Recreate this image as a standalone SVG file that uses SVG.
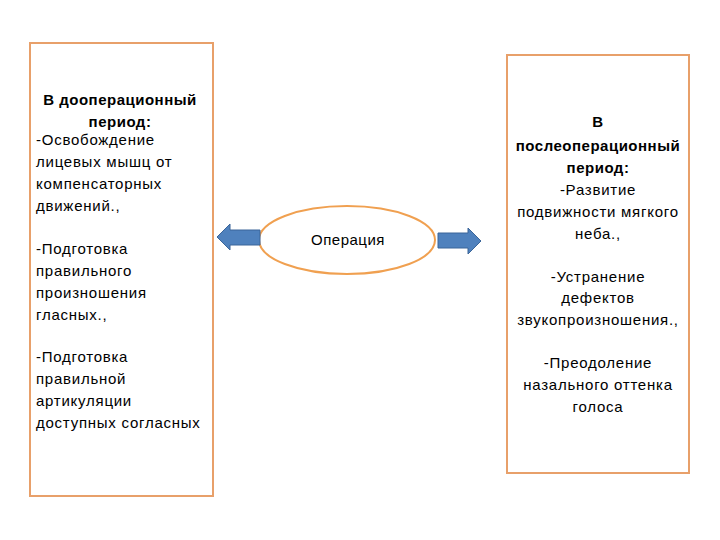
<svg xmlns="http://www.w3.org/2000/svg" width="720" height="540" viewBox="0 0 720 540">
<style>
.box{fill:#ffffff;stroke:#E8A06A;stroke-width:2}
.t{font-family:"Liberation Sans","DejaVu Sans",sans-serif;font-size:15px;fill:#000;letter-spacing:0.75px}
.b{font-weight:bold;letter-spacing:0.5px}
.c{text-anchor:middle}
.arr{fill:#4F81BD;stroke:#3A6599;stroke-width:1}
</style>
<rect width="720" height="540" fill="#ffffff"/>
<g id="pre">
<rect class="box" x="30" y="43" width="183" height="453"/>
<text class="t b c" x="120" y="105">В дооперационный</text>
<text class="t b c" x="120" y="127">период:</text>
<text class="t" x="36" y="145">-Освобождение</text>
<text class="t" x="36" y="167">лицевых мышц от</text>
<text class="t" x="36" y="189">компенсаторных</text>
<text class="t" x="36" y="211">движений.,</text>
<text class="t" x="36" y="254">-Подготовка</text>
<text class="t" x="36" y="276">правильного</text>
<text class="t" x="36" y="298">произношения</text>
<text class="t" x="36" y="320">гласных.,</text>
<text class="t" x="36" y="362">-Подготовка</text>
<text class="t" x="36" y="384">правильной</text>
<text class="t" x="36" y="406">артикуляции</text>
<text class="t" x="36" y="428">доступных согласных</text>
</g>
<g id="op">
<ellipse cx="347" cy="240" rx="88" ry="34" fill="#ffffff" stroke="#F0A050" stroke-width="2"/>
<text class="t c" x="348" y="245" style="letter-spacing:0.5px">Операция</text>
</g>
<g id="post">
<rect class="box" x="507" y="55" width="182" height="418"/>
<text class="t b c" x="598" y="127">В</text>
<text class="t b c" x="598" y="151">послеоперационный</text>
<text class="t b c" x="598" y="173">период:</text>
<text class="t c" x="598" y="195">-Развитие</text>
<text class="t c" x="598" y="217">подвижности мягкого</text>
<text class="t c" x="598" y="239">неба.,</text>
<text class="t c" x="598" y="282">-Устранение</text>
<text class="t c" x="598" y="303">дефектов</text>
<text class="t c" x="598" y="325">звукопроизношения.,</text>
<text class="t c" x="598" y="368">-Преодоление</text>
<text class="t c" x="598" y="390">назального  оттенка</text>
<text class="t c" x="598" y="412">голоса</text>
</g>
<g id="connectors">
<polygon class="arr" points="217,237 230,224 230,230 260,230 260,245 230,245 230,250"/>
<polygon class="arr" points="481,241 468,228 468,233 438,233 438,248 468,248 468,254"/>
</g>
</svg>
